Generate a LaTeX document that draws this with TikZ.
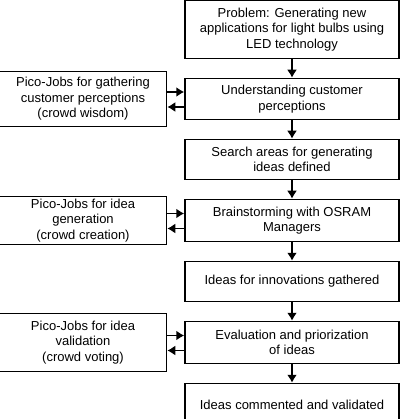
\documentclass[tikz,border=0pt]{standalone}
\usepackage{fontspec}
\setmainfont{Liberation Sans}
\usetikzlibrary{positioning,arrows.meta}

\begin{document}
\begin{tikzpicture}[>={Latex[length=8pt,width=10pt]},line width=1.5pt,node distance=18.5pt,main node/.style={rectangle,draw,align=center,minimum width=214pt,minimum height=41pt,inner sep=2pt,font=\fontsize{13}{15.5}\selectfont},side node/.style={main node,minimum width=167pt}]
    \useasboundingbox (0,0) rectangle (401pt,-419pt);
    % \node[style] (identifier) [placement] {text};
    \node[main node,minimum height=58pt] (1) at (292pt,-29.5pt) {Problem: Generating new\\applications for light bulbs using\\LED technology};
    \node[main node] (2) [below=of 1] {Understanding customer\\perceptions};
    \node[main node,minimum height=40pt] (3) [below=of 2] {Search areas for generating\\ideas defined};
    \node[main node,minimum height=42pt] (4) [below=of 3] {Brainstorming with OSRAM\\Managers};
    \node[main node,minimum height=40pt] (5) [below=of 4] {Ideas for innovations gathered};
    \node[main node,minimum height=42pt] (6) [below=of 5] {Evaluation and priorization\\of ideas};
    \node[main node,minimum height=42pt] (7) [below=of 6] {Ideas commented and validated};
    \node[side node,minimum height=55pt] (8) [left=17pt of 2] {Pico-Jobs for gathering\\customer perceptions\\(crowd wisdom)};
    \node[side node,minimum height=48pt] (9) [left=17pt of 4] {Pico-Jobs for idea\\generation\\(crowd creation)};
    \node[side node,minimum height=58pt] (10) [left=17pt of 6] {Pico-Jobs for idea\\validation\\(crowd voting)};

    \path[->]
    (1) edge (2)
    (2) edge (3)
    (3) edge (4)
    (4) edge (5)
    (5) edge (6)
    (6) edge (7);
    \draw[->] ([yshift=7pt]8.east) -- ([yshift=7pt]2.west);
    \draw[->] ([yshift=-8pt]2.west) -- ([yshift=-8pt]8.east);
    \draw[->] ([yshift=7pt]9.east) -- ([yshift=7pt]4.west);
    \draw[->] ([yshift=-8pt]4.west) -- ([yshift=-8pt]9.east);
    \draw[->] ([yshift=7pt]10.east) -- ([yshift=7pt]6.west);
    \draw[->] ([yshift=-8pt]6.west) -- ([yshift=-8pt]10.east);
\end{tikzpicture}
\end{document}
